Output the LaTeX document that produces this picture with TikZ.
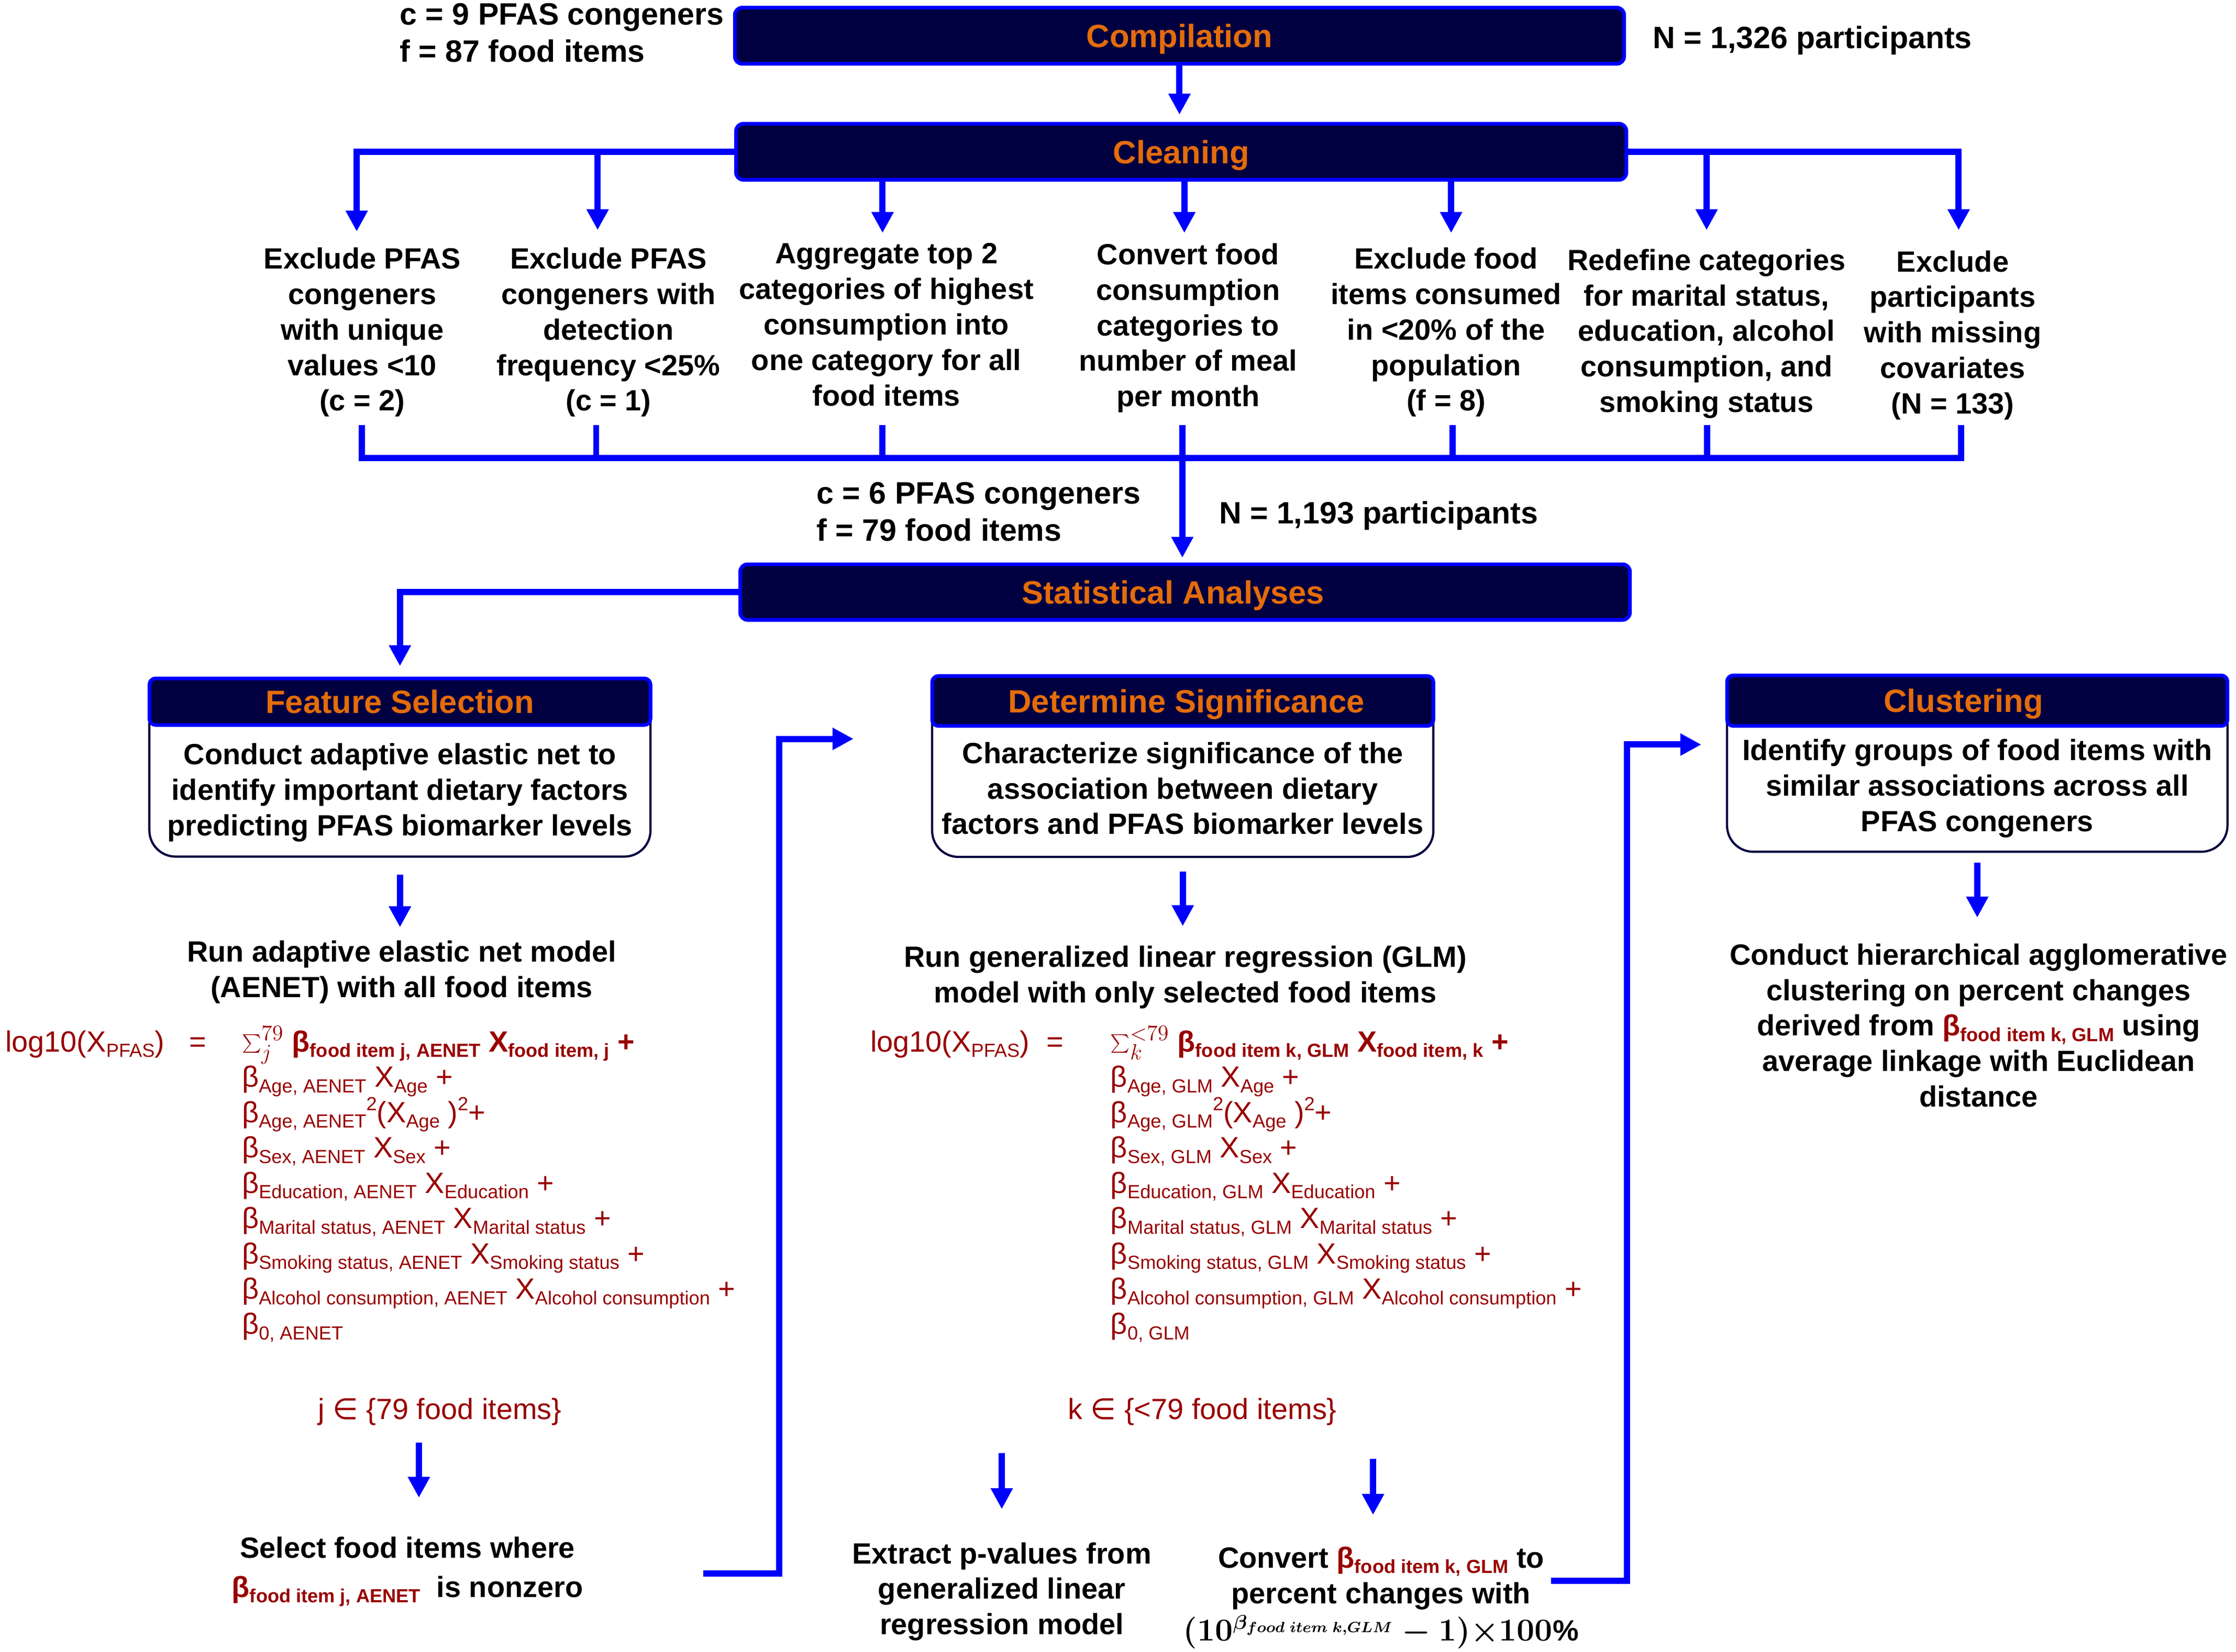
\documentclass[tikz,border=0pt]{standalone}
\usepackage{fontspec}
\setmainfont{Liberation Sans}
\newfontfamily\djv{DejaVu Sans}
\usetikzlibrary{arrows.meta}
\definecolor{navy}{RGB}{0,0,64}
\definecolor{myblue}{RGB}{0,0,255}
\definecolor{orng}{RGB}{228,108,10}
\definecolor{dred}{RGB}{153,0,0}
\newcommand\myu{0.0273cm}
\newcommand\sbs[1]{\raisebox{-3pt}{\fontsize{10.3}{10.3}\selectfont #1}}
\newcommand\sps[1]{\raisebox{6.5pt}{\fontsize{10.3}{10.3}\selectfont #1}}
\newcommand\bigsum[2]{{\fontsize{17.5}{17.5}\selectfont$\textstyle\sum_{#1}^{#2}$}}
\begin{document}
\begin{tikzpicture}[x=0.0273cm,y=-0.0273cm,
 bigbox/.style={draw=myblue, line width=2pt, fill=navy, rounded corners=0.14cm, inner sep=0,
   text=orng, font=\fontsize{17.5}{21}\selectfont\bfseries, text height=12.6pt, text depth=0pt},
 hdr/.style={draw=myblue, line width=2pt, fill=navy, rounded corners=0.12cm, inner sep=0,
   text=orng, font=\fontsize{17.5}{21}\selectfont\bfseries, text height=12.6pt, text depth=0pt},
 bodybox/.style={draw=navy, line width=1.2pt, fill=white, rounded corners=0.5cm, inner sep=0},
 txt/.style={font=\fontsize{15.9}{19.3}\selectfont\bfseries, align=center, inner sep=0, anchor=north},
 note/.style={font=\fontsize{16.8}{20.3}\selectfont\bfseries, align=left, inner sep=0},
 frm/.style={text=dred, font=\fontsize{15.9}{19}\selectfont, inner sep=0, anchor=base west},
 ln/.style={draw=myblue, line width=3.4pt},
 arr/.style={ln, -{Triangle[length=0.4cm,width=0.4cm]}},
]
\fill[white] (0,0) rectangle (1564,1155.6);
\useasboundingbox (0,0) rectangle (1564,1155.6);

% ---------- top boxes ----------
\node[bigbox, minimum width={622*\myu}, minimum height={39.3*\myu}] (comp) at (825,25) {Compilation};
\node[bigbox, minimum width={622.8*\myu}, minimum height={39.2*\myu}] (clean) at (826.2,106.2) {Cleaning};
\node[bigbox, minimum width={622.3*\myu}, minimum height={38.9*\myu}] (stat) at (828.9,414.3) {Statistical Analyses\hspace*{13pt}};

\node[note, anchor=north west] (top1) at (279.5,2) {c = 9 PFAS congeners\\f = 87 food items};
\node[note, anchor=base west] (n1) at (1156,33.7) {N = 1,326 participants};
\node[note, anchor=north west] (mid1) at (571,337) {c = 6 PFAS congeners\\f = 79 food items};
\node[note, anchor=base west] (n2) at (852.5,366.5) {N = 1,193 participants};

% ---------- cleaning items ----------
\node[txt] (it1) at (253.4,173) {Exclude PFAS\\congeners\\with unique\\values <10\\(c = 2)};
\node[txt] (it2) at (425.6,173) {Exclude PFAS\\congeners with\\detection\\frequency <25\%\\(c = 1)};
\node[txt] (it3) at (620,170) {Aggregate top 2\\categories of highest\\consumption into\\one category for all\\food items};
\node[txt] (it4) at (831,170) {Convert food\\consumption\\categories to\\number of meal\\per month};
\node[txt] (it5) at (1011.5,173) {Exclude food\\items consumed\\in <20\% of the\\population\\(f = 8)};
\node[txt] (it6) at (1193.7,174) {Redefine categories\\for marital status,\\education, alcohol\\consumption, and\\smoking status};
\node[txt] (it7) at (1365.8,175) {Exclude\\participants\\with missing\\covariates\\(N = 133)};

% ---------- sub boxes ----------
\node[bodybox, minimum width={350.5*\myu}, minimum height={124.7*\myu}] (fsb) at (279.75,537.05) {};
\node[hdr, minimum width={350.5*\myu}, minimum height={32.6*\myu}] (fsh) at (279.75,491) {Feature Selection};
\node[bodybox, minimum width={350.6*\myu}, minimum height={126.6*\myu}] (dsb) at (827.3,536.3) {};
\node[hdr, minimum width={350.6*\myu}, minimum height={35*\myu}] (dsh) at (827.3,490.5) {\hspace*{4pt}Determine Significance};
\node[bodybox, minimum width={350*\myu}, minimum height={123.4*\myu}] (csb) at (1383,534.3) {};
\node[hdr, minimum width={350*\myu}, minimum height={35.4*\myu}] (csh) at (1383,490.3) {Clustering\hspace*{15pt}};

\node[txt] (fst) at (279.75,520) {Conduct adaptive elastic net to\\identify important dietary factors\\predicting PFAS biomarker levels};
\node[txt] (dst) at (827.3,519) {Characterize significance of the\\association between dietary\\factors and PFAS biomarker levels};
\node[txt] (cst) at (1383,517) {Identify groups of food items with\\similar associations across all\\PFAS congeners};

\node[txt] (aenet) at (281,658) {Run adaptive elastic net model\\(AENET) with all food items};
\node[txt] (glm) at (829,661.6) {Run generalized linear regression (GLM)\\model with only selected food items};
\node[txt] (clu2) at (1384,660) {Conduct hierarchical agglomerative\\clustering on percent changes\\derived from {\color{dred}β\sbs{food item k, GLM}} using\\average linkage with Euclidean\\distance};

% ---------- AENET formula ----------
\node[frm] (al) at (3.5,736) {log10(X\sbs{PFAS})};
\node[frm, anchor=base] (aeq) at (138.5,736) {=};
\node[frm] (a1) at (169,736) {\bigsum{j}{79}\ \textbf{β\sbs{food item j, AENET} X\sbs{food item, j} +}};
\node[frm] (a2) at (169,760.7) {β\sbs{Age, AENET} X\sbs{Age} +};
\node[frm] (a3) at (169,785.4) {β\sbs{Age, AENET}\sps{2}(X\sbs{Age} )\sps{2}+};
\node[frm] (a4) at (169,810.1) {β\sbs{Sex, AENET} X\sbs{Sex} +};
\node[frm] (a5) at (169,834.8) {β\sbs{Education, AENET} X\sbs{Education} +};
\node[frm] (a6) at (169,859.5) {β\sbs{Marital status, AENET} X\sbs{Marital status} +};
\node[frm] (a7) at (169,884.2) {β\sbs{Smoking status, AENET} X\sbs{Smoking status} +};
\node[frm] (a8) at (169,908.9) {β\sbs{Alcohol consumption, AENET} X\sbs{Alcohol consumption} +};
\node[frm] (a9) at (169,933.6) {β\sbs{0, AENET}};
\node[frm, anchor=base] (jset) at (307.6,993) {j {\djv ∈} \{79 food items\}};

% ---------- GLM formula ----------
\node[frm] (gl) at (608.5,736) {log10(X\sbs{PFAS})};
\node[frm, anchor=base] (geq) at (738,736) {=};
\node[frm] (g1) at (776.6,736) {\bigsum{k}{<79}\ \textbf{β\sbs{food item k, GLM} X\sbs{food item, k} +}};
\node[frm] (g2) at (776.6,760.7) {β\sbs{Age, GLM} X\sbs{Age} +};
\node[frm] (g3) at (776.6,785.4) {β\sbs{Age, GLM}\sps{2}(X\sbs{Age} )\sps{2}+};
\node[frm] (g4) at (776.6,810.1) {β\sbs{Sex, GLM} X\sbs{Sex} +};
\node[frm] (g5) at (776.6,834.8) {β\sbs{Education, GLM} X\sbs{Education} +};
\node[frm] (g6) at (776.6,859.5) {β\sbs{Marital status, GLM} X\sbs{Marital status} +};
\node[frm] (g7) at (776.6,884.2) {β\sbs{Smoking status, GLM} X\sbs{Smoking status} +};
\node[frm] (g8) at (776.6,908.9) {β\sbs{Alcohol consumption, GLM} X\sbs{Alcohol consumption} +};
\node[frm] (g9) at (776.6,933.6) {β\sbs{0, GLM}};
\node[frm, anchor=base] (kset) at (841,993) {k {\djv ∈} \{<79 food items\}};

% ---------- bottom texts ----------
\node[txt] (select) at (285,1075) {Select food items where\\[2pt]{\color{dred}β\sbs{food item j, AENET}}\ \ is nonzero};
\node[txt] (extract) at (700.7,1079) {Extract p-values from\\generalized linear\\regression model};
\node[txt] (convert) at (966,1082) {Convert {\color{dred}β\sbs{food item k, GLM}} to\\percent changes with\\[1pt]{\boldmath$\Bigl(10^{\beta_{food\;item\;k,GLM}}-1\Bigr){\times}100\%$}};

% ---------- connectors ----------
\draw[arr, shorten >=0.14cm] (comp.south) -- (comp.south |- clean.north);

\coordinate (t1) at (249.5,162);
\coordinate (t2) at (418,161);
\coordinate (t3) at (617.3,163);
\coordinate (t4) at (828.4,163);
\coordinate (t5) at (1015,163);
\coordinate (t6) at (1193.7,161);
\coordinate (t7) at (1370,161);
\draw[arr] (clean.west) -| (t1);
\draw[arr] (t2 |- clean.west) -- (t2);
\draw[arr] (t3 |- clean.south) -- (t3);
\draw[arr] (t4 |- clean.south) -- (t4);
\draw[arr] (t5 |- clean.south) -- (t5);
\draw[arr] (t6 |- clean.east) -- (t6);
\draw[arr] (clean.east) -| (t7);

\coordinate (k1) at (253,297.5);
\coordinate (k2) at (417,297.5);
\coordinate (k3) at (617.3,297.5);
\coordinate (k4) at (827,297.5);
\coordinate (k5) at (1016,297.5);
\coordinate (k6) at (1194,297.5);
\coordinate (k7) at (1371.6,297.5);
\coordinate (kb) at (253,320.5);
\draw[ln] (k1) -- (kb) -- (k7 |- kb) -- (k7);
\draw[ln] (k2) -- (k2 |- kb);
\draw[ln] (k3) -- (k3 |- kb);
\draw[ln] (k5) -- (k5 |- kb);
\draw[ln] (k6) -- (k6 |- kb);
\draw[arr, shorten >=0.09cm] (k4) -- (k4 |- stat.north);

\draw[arr, shorten >=0.2cm] (stat.west) -| (fsh.north);

\draw[arr, shorten <=0.32cm, shorten >=0.25cm] (fsb.south) -- (fsb.south |- aenet.north);
\draw[arr, shorten <=0.26cm, shorten >=0.37cm] (dsb.south) -- (dsb.south |- glm.north);
\draw[arr, shorten <=0.19cm, shorten >=0.49cm] (csb.south) -- (csb.south |- clu2.north);

\coordinate (ja) at (293,1009.5);
\coordinate (jb) at (293,1048);
\draw[arr] (ja) -- (jb);
\coordinate (kaa) at (700.7,1016.8);
\coordinate (kab) at (700.7,1056);
\draw[arr] (kaa) -- (kab);
\coordinate (kca) at (960.4,1020.8);
\coordinate (kcb) at (960.4,1060);
\draw[arr] (kca) -- (kcb);

\coordinate (la) at (492,1101);
\coordinate (lm) at (545,517);
\coordinate (lb) at (597,517);
\draw[arr] (la) -| (lm) -- (lb);
\coordinate (ra) at (1085,1106);
\coordinate (rm) at (1138,521);
\coordinate (rb) at (1190,521);
\draw[arr] (ra) -| (rm) -- (rb);
\end{tikzpicture}
\end{document}
